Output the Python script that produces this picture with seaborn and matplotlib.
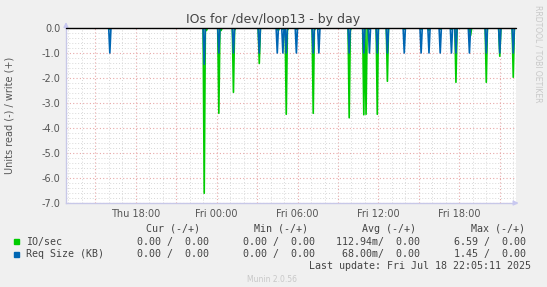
import numpy as np
import pandas as pd
import matplotlib
matplotlib.use("Agg")
import matplotlib.pyplot as plt
from matplotlib.ticker import MultipleLocator, FuncFormatter
import seaborn as sns

# ---- data (hours relative to Fri 00:00) ----
spike_hours = [-7.96, -0.93, -0.75, 0.19, 0.31, 1.22, 1.35, 3.20, 4.53, 4.62,
               4.93, 5.15, 5.27, 5.89, 7.15, 7.27, 7.59, 9.81, 9.94, 10.94,
               11.05, 11.30, 11.89, 12.70, 13.94, 15.13, 15.74, 16.56, 17.44,
               17.72, 18.76, 18.87, 19.98, 21.03, 21.98]
io_read = [0.05, 6.61, 0.10, 3.41, 0.10, 2.57, 0.10, 1.42, 0.05, 0.10,
           0.05, 3.45, 0.10, 0.05, 3.41, 0.10, 0.05, 3.59, 0.10, 3.47,
           3.45, 0.05, 3.45, 2.13, 0.05, 0.05, 0.10, 0.05, 0.05,
           2.17, 0.05, 0.30, 2.17, 1.13, 1.97]
req_read = [1.00, 1.45, 0.00, 1.00, 0.00, 1.00, 0.00, 1.00, 1.00, 0.00,
            1.00, 1.00, 0.00, 1.00, 1.00, 0.00, 1.00, 1.00, 0.00, 1.00,
            0.00, 1.00, 1.00, 1.00, 1.00, 1.00, 1.00, 1.00, 1.00,
            1.00, 1.00, 0.00, 1.00, 1.00, 1.00]
x_tick_labels = {-6: "Thu 18:00", 0: "Fri 00:00", 6: "Fri 06:00",
                 12: "Fri 12:00", 18: "Fri 18:00"}
legend_series = ["IO/sec", "Req Size (KB)"]
legend_cur = ["0.00 /  0.00", "0.00 /  0.00"]
legend_min = ["0.00 /  0.00", "0.00 /  0.00"]
legend_avg = ["112.94m/  0.00", "68.00m/  0.00"]
legend_max = ["6.59 /  0.00", "1.45 /  0.00"]
last_update = "Last update: Fri Jul 18 22:05:11 2025"

# ---- build 5-minute series (zero baseline with read spikes) ----
t_start, t_end = -11.17, 22.2
step = 5.0 / 60.0
times = np.arange(t_start, t_end + step, step)
io_vals = np.zeros(len(times))
req_vals = np.zeros(len(times))
for h, io, rq in zip(spike_hours, io_read, req_read):
    i = int(round((h - t_start) / step))
    io_vals[i] = max(io_vals[i], io)
    req_vals[i] = max(req_vals[i], rq)
df = pd.DataFrame({"t": times, "io": -io_vals, "req": -req_vals})

GREEN = "#00CC00"
BLUE = "#0066B3"
BG = "#F0F0F0"

sns.set_style("white")
plt.rcParams["font.family"] = ["DejaVu Sans"]

fig = plt.figure(figsize=(5.47, 2.87), dpi=100, facecolor=BG)
W, H = 547, 287
L, R, T, B = 66, 516, 28, 203
ax = fig.add_axes([L / W, 1 - B / H, (R - L) / W, (B - T) / H])
ax.set_facecolor("white")

# grid
ax.set_xlim(t_start, t_end)
ax.set_ylim(-7.0, 0.0)
ax.xaxis.set_major_locator(MultipleLocator(3))
ax.xaxis.set_minor_locator(MultipleLocator(1))
ax.yaxis.set_major_locator(MultipleLocator(1))
ax.yaxis.set_minor_locator(MultipleLocator(0.2))
ax.grid(which="minor", color="#D8D8D8", linestyle=(0, (1, 2)), linewidth=0.7)
ax.grid(which="major", color="#E8A8A8", linestyle=(0, (1, 2)), linewidth=0.8)
ax.set_axisbelow(True)

sns.lineplot(data=df, x="t", y="io", ax=ax, color=GREEN, linewidth=1.2,
             legend=False, zorder=3)
sns.lineplot(data=df, x="t", y="req", ax=ax, color=BLUE, linewidth=1.2,
             legend=False, zorder=4)
ax.axhline(0, color="black", linewidth=1.0, zorder=5, clip_on=False)

ax.xaxis.set_major_formatter(FuncFormatter(
    lambda v, p: x_tick_labels.get(int(round(v)), "") if abs(v - round(v)) < 1e-6 else ""))
ax.yaxis.set_major_formatter(FuncFormatter(lambda v, p: f"{v:.1f}"))
ax.tick_params(axis="both", which="major", colors="#E07070", length=3,
               width=0.8, direction="in", labelcolor="#555555", labelsize=7, pad=4)
ax.tick_params(axis="both", which="minor", length=0)
ax.set_xlabel("")
ax.set_ylabel("")

for s in ["top", "right"]:
    ax.spines[s].set_visible(False)
for s in ["left", "bottom"]:
    ax.spines[s].set_color("#C8C8E8")
    ax.spines[s].set_linewidth(1.0)
# axis arrows
ax.annotate("", xy=(1.012, 0), xytext=(0.99, 0), xycoords="axes fraction",
            arrowprops=dict(arrowstyle="-|>", color="#C8C8F0", lw=1, mutation_scale=7))
ax.annotate("", xy=(0, 1.05), xytext=(0, 0.98), xycoords="axes fraction",
            arrowprops=dict(arrowstyle="-|>", color="#C8C8F0", lw=1, mutation_scale=7))

# texts
fig.text(0.5, 1 - 19 / H, "IOs for /dev/loop13 - by day", ha="center", va="center",
         fontsize=9, color="#444444")
fig.text(10 / W, 1 - 115 / H, "Units read (-) / write (+)", rotation=90,
         ha="center", va="center", fontsize=7, color="#555555")
fig.text(538 / W, 1 - 5 / H, "RRDTOOL / TOBI OETIKER", rotation=270,
         ha="center", va="top", fontsize=5.5, color="#C8C8C8")

mono = dict(family="DejaVu Sans Mono", fontsize=7.2, color="#444444", va="center")
hdr_y = 1 - 228.5 / H
for txt, xr in zip(["Cur (-/+)", "Min (-/+)", "Avg (-/+)", "Max (-/+)"],
                   [200, 308, 416, 525]):
    fig.text(xr / W, hdr_y, txt, ha="right", **mono)
row_y = [241.8, 254.0]
colors = [GREEN, BLUE]
for k in range(2):
    y = 1 - row_y[k] / H
    fig.patches.append(plt.Rectangle((14 / W, y - 2.5 / H), 5 / W, 5 / H,
                                     transform=fig.transFigure, color=colors[k]))
    fig.text(26 / W, y, legend_series[k], ha="left", **mono)
    for vals, xr in zip([legend_cur, legend_min, legend_avg, legend_max],
                        [209, 315, 420, 526]):
        fig.text(xr / W, y, vals[k], ha="right", **mono)
fig.text(531 / W, 1 - 266.2 / H, last_update, ha="right", **mono)
fig.text(272 / W, 1 - 279 / H, "Munin 2.0.56", ha="center", va="center",
         fontsize=5.5, color="#C8C8C8")

fig.savefig("out.png", dpi=100, facecolor=BG)
